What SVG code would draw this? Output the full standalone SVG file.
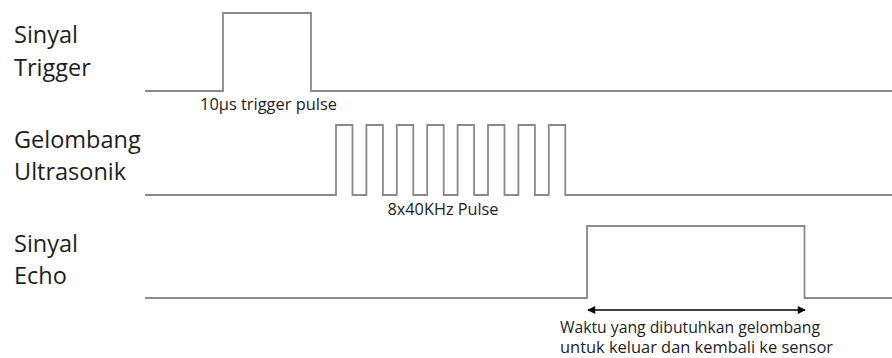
<svg xmlns="http://www.w3.org/2000/svg" width="892" height="358" viewBox="0 0 892 358">
<style>
.sig{fill:none;stroke:#8a8a8a;stroke-width:1.8;stroke-linejoin:miter}
.lbl{font-family:"Open Sans","Noto Sans",sans-serif;font-size:23.5px;fill:#1e1e1e}
.sm{font-family:"Open Sans","Noto Sans",sans-serif;font-size:16px;fill:#1e1e1e}
.arr{stroke:#000;stroke-width:1.5;fill:none}
</style>
<defs>
<marker id="ah" viewBox="0 0 10 10" refX="9" refY="5" markerWidth="9" markerHeight="8" markerUnits="userSpaceOnUse" orient="auto-start-reverse">
<path d="M0,0 L10,5 L0,10 z" fill="#000"/>
</marker>
</defs>
<rect width="892" height="358" fill="#fff"/>
<g id="trigger">
<text class="lbl" x="14" y="43">Sinyal</text>
<text class="lbl" x="14" y="76">Trigger</text>
<path class="sig" d="M145,91 H223 V13 H311 V91 H892"/>
<text class="sm" x="200" y="110" textLength="137" lengthAdjust="spacingAndGlyphs">10µs trigger pulse</text>
</g>
<g id="ultrasonik">
<text class="lbl" x="14" y="148">Gelombang</text>
<text class="lbl" x="14" y="180">Ultrasonik</text>
<path class="sig" d="M145,195 H336 V125 H352.5 V195 H366.4 V125 H382.9 V195 H396.8 V125 H413.3 V195 H427.2 V125 H443.7 V195 H457.6 V125 H474.1 V195 H488 V125 H504.5 V195 H518.4 V125 H534.9 V195 H548.8 V125 H565.3 V195 H892"/>
<text class="sm" x="387.5" y="215" textLength="111" lengthAdjust="spacingAndGlyphs">8x40KHz Pulse</text>
</g>
<g id="echo">
<text class="lbl" x="14" y="252">Sinyal</text>
<text class="lbl" x="14" y="284">Echo</text>
<path class="sig" d="M145,298 H587 V226 H804.5 V298 H892"/>
<text class="sm" x="560" y="333" textLength="260" lengthAdjust="spacingAndGlyphs">Waktu yang dibutuhkan gelombang</text>
<text class="sm" x="560" y="353" textLength="273" lengthAdjust="spacingAndGlyphs">untuk keluar dan kembali ke sensor</text>
</g>
<g id="connectors">
<line class="arr" x1="588" y1="310" x2="805" y2="310" marker-start="url(#ah)" marker-end="url(#ah)"/>
</g>
</svg>
